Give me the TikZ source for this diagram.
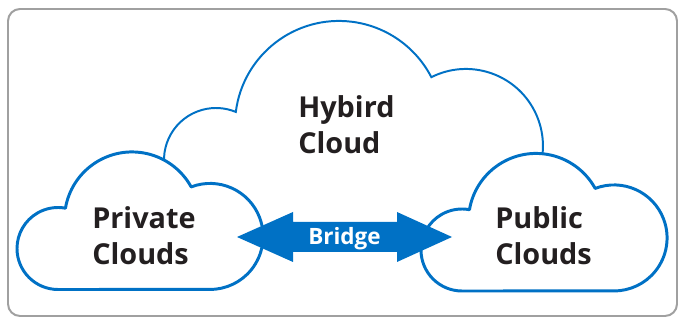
\documentclass[tikz,border=0pt]{standalone}
\usepackage{fontspec}
\newfontfamily\labelfont{Open Sans}
\definecolor{cloudblue}{RGB}{0,113,197}
\definecolor{framegray}{RGB}{160,160,160}
\definecolor{inkdark}{RGB}{35,31,32}
\begin{document}
\begin{tikzpicture}[x=0.025cm, y=0.025cm,
  frameline/.style={draw=framegray, line width=1.4pt, rounded corners=0.3cm},
  bigcloud/.style={draw=cloudblue, line width=1.4pt},
  smallcloud/.style={draw=cloudblue, fill=white, line width=2.1pt, line join=round},
  bridgearrow/.style={fill=cloudblue},
  cloudlabel/.style={font=\labelfont\bfseries\fontsize{20.5}{25.5}\selectfont,
    text=inkdark, align=left, inner sep=0pt, anchor=west},
  bridgelabel/.style={font=\labelfont\bfseries\fontsize{16}{19}\selectfont,
    text=white, inner sep=0pt, anchor=base}]
\useasboundingbox (0,0) rectangle (679,320);

% outer frame
\draw[frameline] (8,4) rectangle (677,311);

% hybrid cloud outline (its ends run under the two small clouds)
\draw[bigcloud] (165.77,146.54)
  arc[start angle=195, end angle=67.6, radius=52]
  arc[start angle=172.8, end angle=27.35, radius=104]
  arc[start angle=116.7, end angle=-15, radius=77];

% private cloud
\draw[smallcloud] (58,30.5)
  arc[start angle=270, end angle=79.5, radius=41]
  arc[start angle=170.4, end angle=28.8, radius=67.5]
  arc[start angle=110.9, end angle=-90, radius=53] -- cycle;

% public cloud
\begin{scope}[shift={(404,-1.5)}]
\draw[smallcloud] (58,30.5)
  arc[start angle=270, end angle=79.5, radius=41]
  arc[start angle=170.4, end angle=28.8, radius=67.5]
  arc[start angle=110.9, end angle=-90, radius=53] -- cycle;
\end{scope}

% bridge between the clouds
\coordinate (ltip) at (237,83);
\coordinate (rtip) at (452,83);
\fill[bridgearrow] (ltip) -- ++(56,25) -- ++(0,-10) -- ++(104,0) -- ++(0,10)
  -- (rtip) -- ++(-55,-25) -- ++(0,10) -- ++(-104,0) -- ++(0,-10) -- cycle;

% labels
\node[cloudlabel] (hybrid) at (298,195) {Hybird\\Cloud};
\node[cloudlabel] (private) at (92,84.5) {Private\\Clouds};
\node[cloudlabel] (public) at (495,84.5) {Public\\Clouds};
\node[bridgelabel] (bridge) at (344.5,75) {Bridge};
\end{tikzpicture}
\end{document}
